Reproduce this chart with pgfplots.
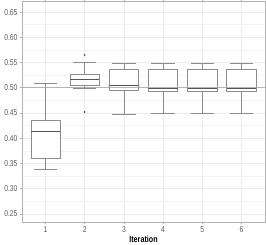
\documentclass[border=0pt]{standalone}
\usepackage{fontspec}
\setmainfont{Liberation Sans}[FakeStretch=0.8]
\usepackage{pgfplots}
\pgfplotsset{compat=1.18}
\usepgfplotslibrary{statistics}
\definecolor{boxc}{HTML}{8C8C8C}
\definecolor{medc}{HTML}{555555}
\definecolor{gridmaj}{HTML}{EBEBEB}
\definecolor{gridmin}{HTML}{F4F4F4}
\definecolor{borderc}{HTML}{B3B3B3}
\definecolor{tickc}{HTML}{5A5A5A}
\definecolor{refred}{RGB}{240,128,128}
\begin{document}
\begin{tikzpicture}
\begin{axis}[
  name=ax,
  scale only axis,
  width=243bp, height=221bp,
  xmin=0.4, xmax=6.6,
  ymin=0.234, ymax=0.672,
  xtick={1,2,3,4,5,6},
  ytick={0.25,0.30,0.35,0.40,0.45,0.50,0.55,0.60,0.65},
  minor ytick={0.275,0.325,0.375,0.425,0.475,0.525,0.575,0.625},
  ymajorgrids, xmajorgrids, yminorgrids,
  major grid style={gridmaj, line width=0.6bp},
  minor grid style={gridmin, line width=0.5bp},
  axis line style={borderc, line width=0.8bp},
  tick align=outside,
  major tick length=2bp,
  minor tick length=0pt,
  tick style={borderc, line width=0.6bp},
  /pgf/number format/assume math mode=true,
  yticklabel style={/pgf/number format/fixed, /pgf/number format/fixed zerofill, /pgf/number format/precision=2, font=\fontsize{8.5}{9}\selectfont, text=tickc, xshift=1bp},
  xticklabel style={font=\fontsize{8.5}{9}\selectfont, text=tickc, yshift=1bp},
  xlabel={Iteration},
  xlabel style={font=\fontsize{9}{10}\selectfont\bfseries, yshift=3bp},
]
\addplot+[boxplot prepared={draw position=1, lower whisker=0.339, lower quartile=0.360, median=0.4134, upper quartile=0.436, upper whisker=0.508, box extend=0.75, draw direction=y, every median/.style={draw=medc, line width=0.8bp}}, draw=boxc, fill=white, line width=0.6bp, solid, mark=none] coordinates {};
\addplot+[boxplot prepared={draw position=2, lower whisker=0.499, lower quartile=0.5054, median=0.517, upper quartile=0.526, upper whisker=0.550, box extend=0.75, draw direction=y, every median/.style={draw=medc, line width=0.8bp}}, draw=boxc, fill=white, line width=0.6bp, solid, mark=*, mark size=0.6bp, mark options={draw=medc, fill=medc}] coordinates {(0,0.565) (0,0.452)};
\addplot+[boxplot prepared={draw position=3, lower whisker=0.448, lower quartile=0.4954, median=0.504, upper quartile=0.537, upper whisker=0.5486, box extend=0.75, draw direction=y, every median/.style={draw=medc, line width=0.8bp}}, draw=boxc, fill=white, line width=0.6bp, solid, mark=none] coordinates {};
\addplot+[boxplot prepared={draw position=4, lower whisker=0.4486, lower quartile=0.494, median=0.4994, upper quartile=0.537, upper whisker=0.5486, box extend=0.75, draw direction=y, every median/.style={draw=medc, line width=0.8bp}}, draw=boxc, fill=white, line width=0.6bp, solid, mark=none] coordinates {};
\addplot+[boxplot prepared={draw position=5, lower whisker=0.4486, lower quartile=0.494, median=0.4994, upper quartile=0.537, upper whisker=0.5486, box extend=0.75, draw direction=y, every median/.style={draw=medc, line width=0.8bp}}, draw=boxc, fill=white, line width=0.6bp, solid, mark=none] coordinates {};
\addplot+[boxplot prepared={draw position=6, lower whisker=0.4486, lower quartile=0.494, median=0.4994, upper quartile=0.537, upper whisker=0.5486, box extend=0.75, draw direction=y, every median/.style={draw=medc, line width=0.8bp}}, draw=boxc, fill=white, line width=0.6bp, solid, mark=none] coordinates {};
\addplot[color=refred, line width=1.4bp, opacity=0.75, mark=none, forget plot] coordinates {(0.4,0.5) (6.6,0.5)};
\end{axis}
\pgfresetboundingbox
\path ([shift={(-22bp,-23bp)}]ax.south west) rectangle ([shift={(1bp,1bp)}]ax.north east);
\end{tikzpicture}
\end{document}
